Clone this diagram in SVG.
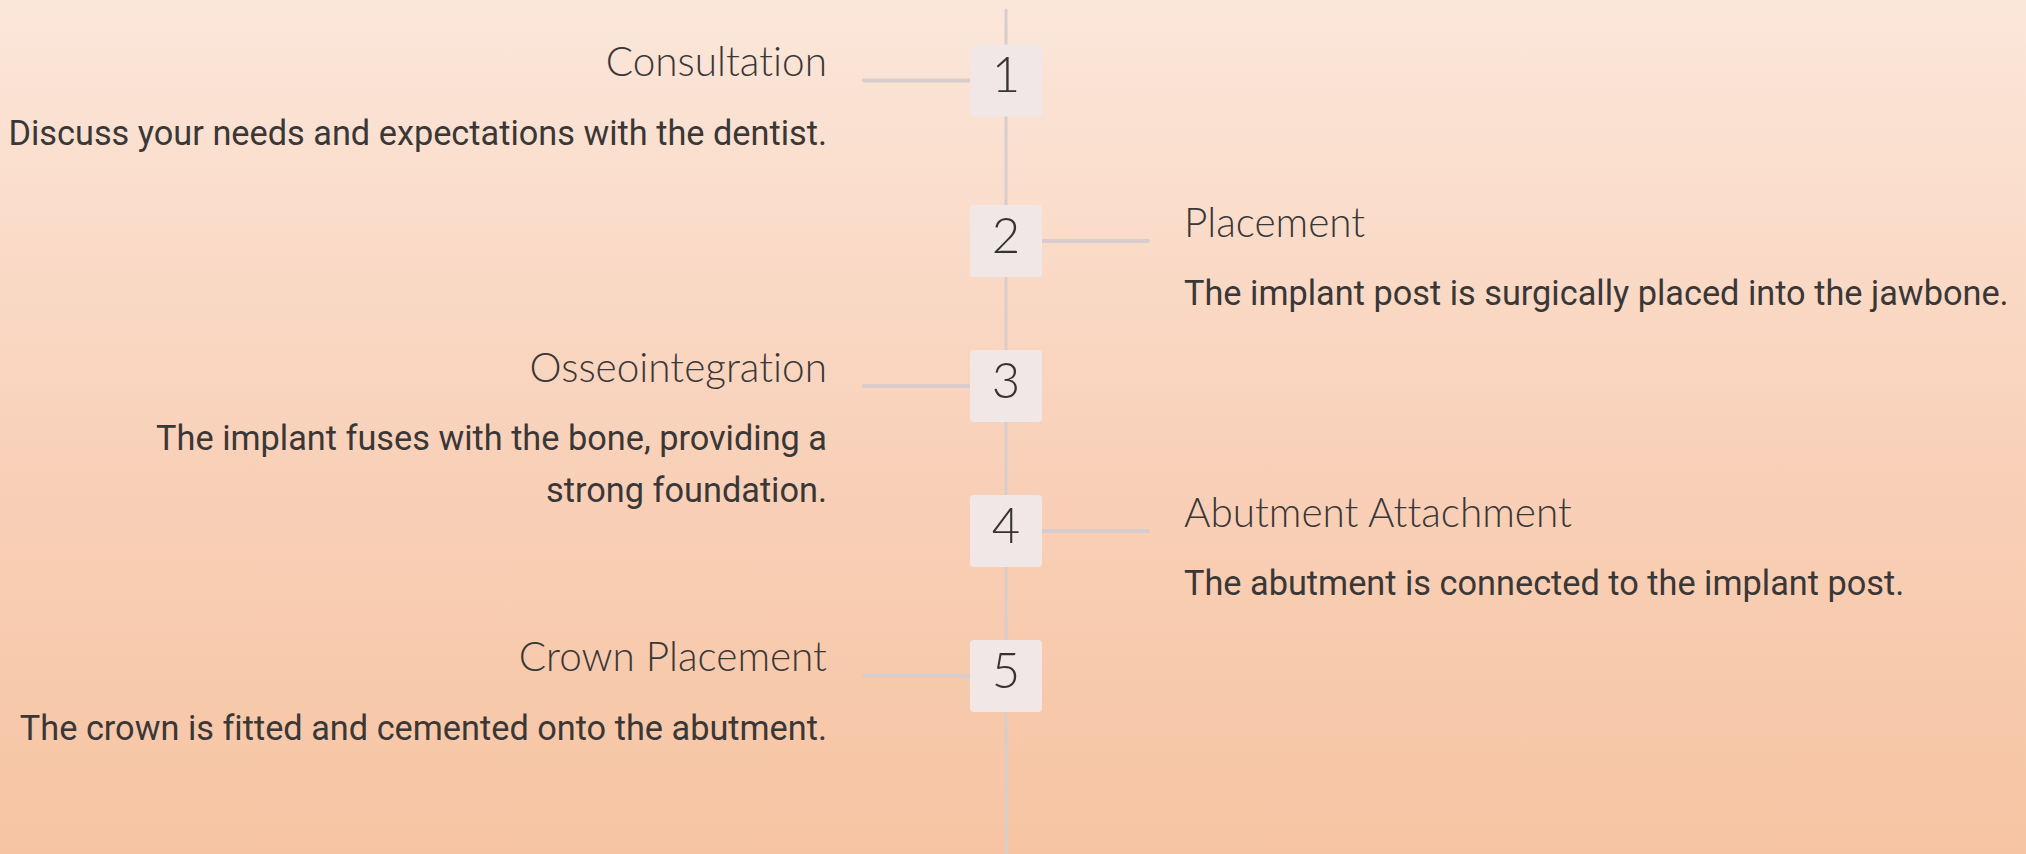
<svg xmlns="http://www.w3.org/2000/svg" width="2026" height="854" viewBox="0 0 2026 854">
  <defs>
    <linearGradient id="bg" x1="0" y1="0" x2="0" y2="1">
      <stop offset="0" stop-color="#fbe7da"/>
      <stop offset="0.5" stop-color="#f9d2bb"/>
      <stop offset="1" stop-color="#f6c4a2"/>
    </linearGradient>
  </defs>
  <style>
    text { font-variant-ligatures: none; }
    .conn { stroke: #d8cdcc; stroke-linecap: round; fill: none; }
    .box { fill: #f1e7e6; }
    .num { font-family: Lato, "Noto Sans", sans-serif; font-weight: 300; font-size: 49px; fill: #363333; text-anchor: middle; }
    .title { font-family: Lato, "Noto Sans", sans-serif; font-weight: 300; font-size: 40.5px; fill: #3a3737; }
    .body { font-family: Roboto, "Liberation Sans", sans-serif; font-weight: 400; font-size: 34.3px; fill: #3a3737; }
    .l { text-anchor: end; }
  </style>
  <rect x="0" y="0" width="2026" height="854" fill="url(#bg)"/>
  <g id="connectors">
    <line class="conn" x1="1006" y1="10" x2="1006" y2="860" stroke-width="3"/>
    <line class="conn" x1="864" y1="80.5" x2="972" y2="80.5" stroke-width="4"/>
    <line class="conn" x1="1040" y1="241" x2="1148" y2="241" stroke-width="4"/>
    <line class="conn" x1="864" y1="386" x2="972" y2="386" stroke-width="4"/>
    <line class="conn" x1="1040" y1="531" x2="1148" y2="531" stroke-width="4"/>
    <line class="conn" x1="864" y1="676" x2="972" y2="676" stroke-width="4"/>
  </g>
  <g id="step1">
    <rect class="box" x="970" y="44.5" width="72" height="72" rx="4"/>
    <text class="num" x="1006" y="92">1</text>
    <text class="title l" x="827" y="76">Consultation</text>
    <text class="body l" x="827" y="145">Discuss your needs and expectations with the dentist.</text>
  </g>
  <g id="step2">
    <rect class="box" x="970" y="205" width="72" height="72" rx="4"/>
    <text class="num" x="1006" y="252.5">2</text>
    <text class="title" x="1184" y="237">Placement</text>
    <text class="body" x="1184" y="305">The implant post is surgically placed into the jawbone.</text>
  </g>
  <g id="step3">
    <rect class="box" x="970" y="350" width="72" height="72" rx="4"/>
    <text class="num" x="1006" y="397.5">3</text>
    <text class="title l" x="827" y="382">Osseointegration</text>
    <text class="body l" x="827" y="450">The implant fuses with the bone, providing a</text>
    <text class="body l" x="827" y="502">strong foundation.</text>
  </g>
  <g id="step4">
    <rect class="box" x="970" y="495" width="72" height="72" rx="4"/>
    <text class="num" x="1006" y="542.5">4</text>
    <text class="title" x="1184" y="527">Abutment Attachment</text>
    <text class="body" x="1184" y="595">The abutment is connected to the implant post.</text>
  </g>
  <g id="step5">
    <rect class="box" x="970" y="640" width="72" height="72" rx="4"/>
    <text class="num" x="1006" y="687.5">5</text>
    <text class="title l" x="827" y="671">Crown Placement</text>
    <text class="body l" x="827" y="740">The crown is fitted and cemented onto the abutment.</text>
  </g>
</svg>
